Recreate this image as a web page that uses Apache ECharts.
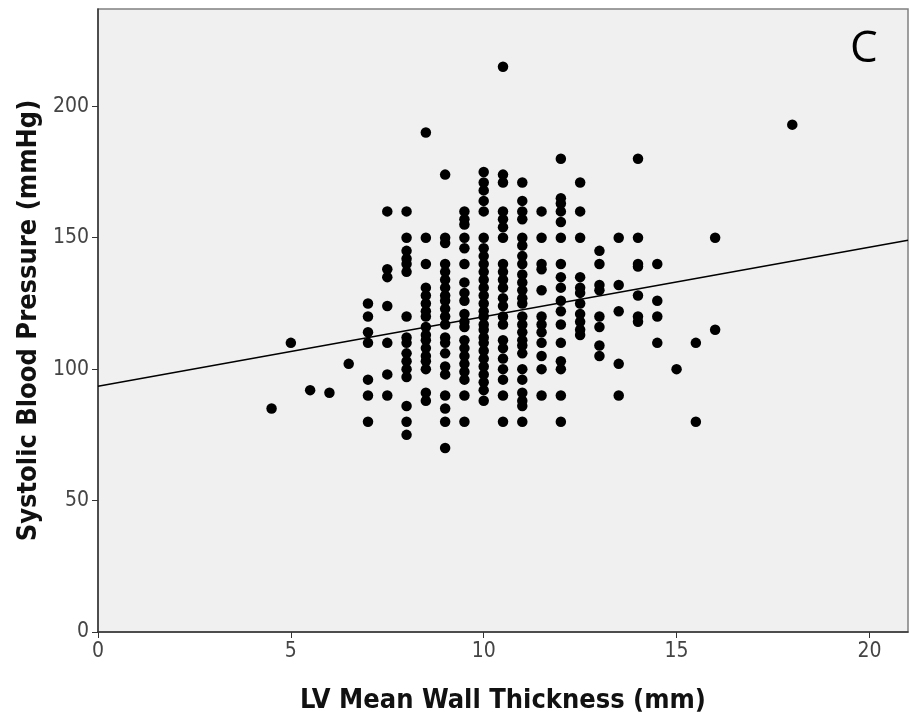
<!DOCTYPE html>
<html>
<head>
<meta charset="utf-8">
<script src="https://cdn.jsdelivr.net/npm/echarts@6/dist/echarts.min.js"></script>
<style>html,body{margin:0;padding:0;background:#fff}#c{width:910px;height:720px}</style>
</head>
<body>
<div id="c"></div>
<script>
// Wall thickness columns (mm) and systolic BP readings (mmHg) in each column
const thickness = [4.5, 5, 5.5, 6, 6.5, 7, 7.5, 8, 8.5, 9, 9.5, 10, 10.5, 11, 11.5, 12, 12.5, 13, 13.5, 14, 14.5, 15, 15.5, 16, 18];
const pressure = [
  [85],
  [110],
  [92],
  [91],
  [102],
  [125, 120, 114, 110, 96, 90, 80],
  [160, 138, 135, 124, 110, 98, 90],
  [160, 150, 145, 142, 140, 137, 120, 112, 110, 106, 103, 100, 97, 86, 80, 75],
  [190, 150, 140, 131, 128, 125, 122, 120, 116, 113, 111, 108, 105, 103, 100, 91, 88],
  [174, 150, 148, 140, 137, 134, 131, 128, 126, 123, 120, 117, 112, 110, 106, 101, 98, 90, 85, 80, 70],
  [160, 157, 155, 150, 146, 140, 133, 129, 126, 121, 118, 116, 111, 108, 105, 102, 99, 96, 90, 80],
  [175, 171, 168, 164, 160, 150, 146, 143, 140, 137, 134, 131, 128, 125, 122, 120, 117, 115, 112, 110, 107, 104, 101, 98, 95, 92, 88],
  [215, 174, 171, 160, 157, 154, 150, 140, 137, 134, 131, 127, 124, 120, 117, 111, 108, 104, 100, 96, 90, 80],
  [171, 164, 160, 157, 150, 147, 143, 140, 136, 133, 130, 127, 125, 120, 117, 114, 111, 109, 106, 100, 96, 91, 88, 86, 80],
  [160, 150, 140, 138, 130, 120, 117, 114, 110, 105, 100, 90],
  [180, 165, 163, 160, 156, 150, 140, 135, 131, 126, 122, 117, 110, 103, 100, 90, 80],
  [171, 160, 150, 135, 131, 129, 125, 121, 118, 115, 113],
  [145, 140, 132, 130, 120, 116, 109, 105],
  [150, 132, 122, 102, 90],
  [180, 150, 140, 139, 128, 120, 118],
  [140, 126, 120, 110],
  [100],
  [110, 80],
  [150, 115],
  [193]
];
// Fit line
const fitX = [0, 21];
const fitY = [93.5, 149];
const xTicks = [0, 5, 10, 15, 20];
const yTicks = [0, 50, 100, 150, 200];

const points = [];
thickness.forEach((t, i) => pressure[i].forEach(p => points.push([t, p])));
const fit = fitX.map((x, i) => [x, fitY[i]]);

const chart = echarts.init(document.getElementById('c'), null, {renderer: 'canvas'});
const fam = '"Liberation Sans Narrow", "Arial Narrow", "DejaVu Sans Condensed", sans-serif';
const tickFont = {fontFamily: fam, fontSize: 21, color: '#444'};
const titleFont = {fontFamily: fam, fontSize: 27, fontWeight: 'bold', color: '#111'};
chart.setOption({
  backgroundColor: '#ffffff',
  animation: false,
  grid: {left: 98, right: 2, top: 9, bottom: 88, outerBoundsMode: 'none', containLabel: false,
         show: true, backgroundColor: '#f0f0f0', borderColor: '#808080', borderWidth: 1.5},
  xAxis: {
    type: 'value', min: 0, max: 21, interval: 5,
    name: 'LV Mean Wall Thickness (mm)', nameLocation: 'middle', nameGap: 55,
    nameTextStyle: titleFont,
    axisLine: {show: true, lineStyle: {color: '#333', width: 1.5}},
    axisTick: {show: true, length: 6, lineStyle: {color: '#333'}, customValues: xTicks},
    axisLabel: Object.assign({margin: 9, customValues: xTicks}, tickFont),
    splitLine: {show: false}
  },
  yAxis: {
    type: 'value', min: 0, max: 237, interval: 50,
    name: 'Systolic Blood Pressure (mmHg)', nameLocation: 'middle', nameGap: 55,
    nameTextStyle: titleFont,
    axisLine: {show: true, lineStyle: {color: '#333', width: 1.5}},
    axisTick: {show: true, length: 6, lineStyle: {color: '#333'}, customValues: yTicks},
    axisLabel: Object.assign({margin: 9, customValues: yTicks}, tickFont),
    splitLine: {show: false}
  },
  series: [
    {type: 'scatter', data: points, symbolSize: 10.5, itemStyle: {color: '#000', opacity: 1}, z: 3},
    {type: 'line', data: fit, symbol: 'none', lineStyle: {color: '#000', width: 1.5}, z: 4, silent: true}
  ],
  graphic: [
    {type: 'text', left: 850, top: 27, style: {text: 'C', fontSize: 44, fontFamily: '"Open Sans", "Noto Sans", sans-serif', fill: '#000'}}
  ]
});
</script>
</body>
</html>
